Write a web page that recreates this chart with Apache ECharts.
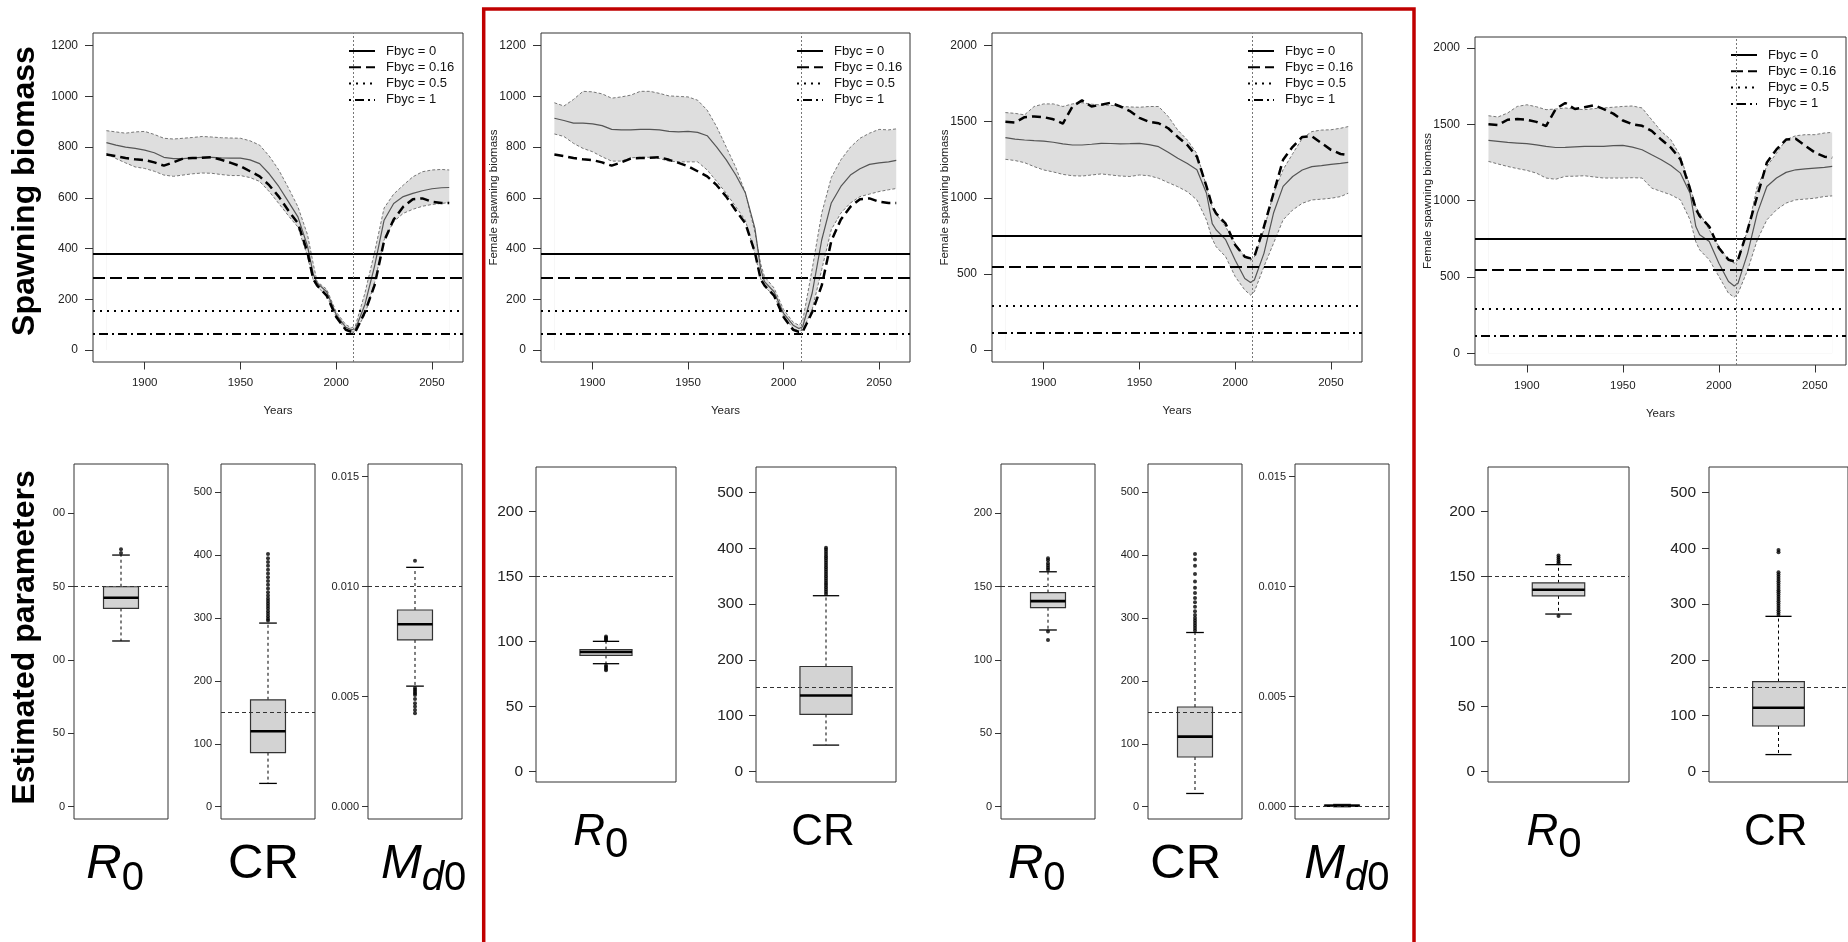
<!DOCTYPE html>
<html>
<head>
<meta charset="utf-8">
<title>Spawning biomass and estimated parameters</title>
<script src="https://cdn.jsdelivr.net/npm/echarts@6/dist/echarts.min.js"></script>
<style>
  html, body { margin: 0; padding: 0; background: #fff; }
  #chart { width: 1848px; height: 942px; }
</style>
</head>
<body>
<div id="chart"></div>
<script>
// years shared by every biomass series
const years = [1880, 1885, 1890, 1895, 1900, 1905, 1910, 1915, 1920, 1925,
  1930, 1935, 1940, 1945, 1950, 1955, 1960, 1965, 1970, 1975,
  1980, 1985, 1988, 1990, 1995, 2000, 2005, 2008, 2010, 2015,
  2020, 2025, 2030, 2035, 2040, 2045, 2050, 2055, 2059];

// panel 1 : estimated band + median
const upper1 = [865, 860, 855, 860, 862, 850, 835, 832, 835, 838, 842, 840, 837, 836, 835, 825, 808, 765, 710, 640,
  565, 455, 340, 270, 240, 150, 100, 88, 95, 225, 385, 560, 615, 650, 683, 703, 710, 712, 710];
const median1 = [818, 808, 800, 795, 788, 778, 760, 755, 755, 758, 760, 760, 758, 757, 757, 750, 735, 695, 645, 585,
  525, 410, 300, 265, 230, 140, 90, 80, 83, 180, 330, 512, 578, 605, 618, 628, 636, 640, 641];
const lower1 = [775, 755, 738, 722, 716, 705, 690, 685, 690, 695, 698, 697, 692, 688, 688, 680, 665, 625, 578, 530,
  485, 370, 275, 250, 215, 130, 80, 70, 73, 140, 265, 434, 506, 539, 555, 567, 574, 578, 582];

// panel 2
const upper2 = [975, 962, 988, 1020, 1018, 1010, 993, 998, 1005, 1020, 1020, 1012, 1002, 1000, 998, 985, 946, 880, 800, 720,
  620, 465, 340, 290, 245, 160, 110, 98, 115, 320, 540, 680, 750, 800, 835, 855, 870, 868, 872];
const median2 = [914, 905, 895, 895, 892, 885, 870, 868, 868, 870, 870, 868, 862, 860, 862, 858, 845, 800, 750, 690,
  620, 480, 320, 270, 230, 145, 98, 85, 92, 225, 435, 580, 645, 690, 715, 732, 738, 742, 748];
const lower2 = [852, 842, 815, 795, 782, 762, 745, 745, 758, 760, 760, 755, 745, 742, 742, 742, 710, 665, 618, 565,
  512, 380, 280, 250, 215, 135, 85, 75, 78, 160, 318, 475, 540, 580, 605, 615, 625, 632, 637];

// panel 3
const upper3 = [1560, 1555, 1545, 1600, 1617, 1617, 1600, 1617, 1625, 1615, 1610, 1608, 1600, 1597, 1595, 1600, 1600, 1535, 1445, 1380,
  1290, 1075, 940, 895, 810, 700, 612, 590, 612, 790, 1030, 1185, 1290, 1390, 1435, 1445, 1447, 1457, 1468];
const median3 = [1395, 1385, 1380, 1376, 1373, 1365, 1355, 1347, 1347, 1352, 1358, 1357, 1355, 1356, 1358, 1350, 1336, 1300, 1260, 1225,
  1185, 1030, 830, 790, 725, 590, 470, 443, 460, 635, 900, 1075, 1140, 1183, 1205, 1212, 1220, 1226, 1233];
const lower3 = [1253, 1245, 1231, 1205, 1183, 1170, 1154, 1145, 1143, 1150, 1157, 1150, 1143, 1140, 1150, 1145, 1128, 1100, 1073, 1040,
  986, 854, 730, 679, 613, 482, 394, 361, 383, 548, 701, 855, 920, 964, 986, 991, 997, 1008, 1030];

// panel 4
const upper4 = [1556, 1548, 1574, 1617, 1628, 1615, 1596, 1600, 1607, 1600, 1596, 1603, 1607, 1612, 1617, 1620, 1607, 1530, 1454, 1399,
  1290, 1093, 960, 918, 809, 699, 612, 590, 612, 809, 1093, 1224, 1311, 1399, 1425, 1432, 1432, 1443, 1447];
const median4 = [1395, 1388, 1381, 1377, 1373, 1365, 1355, 1348, 1349, 1352, 1355, 1355, 1355, 1360, 1362, 1350, 1333, 1300, 1268, 1230,
  1180, 1049, 830, 776, 732, 590, 470, 441, 459, 656, 918, 1093, 1148, 1185, 1202, 1208, 1213, 1218, 1224];
const lower4 = [1257, 1240, 1224, 1210, 1198, 1180, 1148, 1140, 1159, 1160, 1163, 1155, 1148, 1148, 1148, 1150, 1148, 1082, 1060, 1038,
  1005, 874, 730, 677, 612, 503, 393, 367, 393, 546, 743, 874, 940, 984, 1005, 1010, 1016, 1027, 1031];

// true trajectories (thick dashed)
const truthA = [771, 765, 757, 752, 749, 740, 727, 740, 755, 757, 758, 760, 750, 738, 725, 705, 685, 650, 605, 550,
  500, 385, 280, 255, 215, 130, 80, 72, 72, 150, 255, 430, 515, 565, 595, 598, 585, 580, 580];
const truthB = [1500, 1495, 1530, 1535, 1530, 1516, 1488, 1600, 1640, 1600, 1612, 1625, 1600, 1570, 1525, 1500, 1490, 1457, 1400, 1347,
  1270, 1075, 945, 898, 830, 690, 613, 602, 613, 810, 1030, 1250, 1335, 1400, 1405, 1360, 1315, 1288, 1281];

// equilibrium levels for Fbyc = 0, 0.16, 0.5, 1
const refA = [379, 287, 155, 66];
const refB = [751, 550, 291, 116];
const legendNames = ['Fbyc = 0', 'Fbyc = 0.16', 'Fbyc = 0.5', 'Fbyc = 1'];
const markYear = 2009;

// tick labels
const xTicks = [1900, 1950, 2000, 2050];
const yTicksA = [0, 200, 400, 600, 800, 1000, 1200];
const yTicksB = [0, 500, 1000, 1500, 2000];
const r0Ticks = [0, 50, 100, 150, 200];
const r0Clipped = ['0', '50', '00', '50', '00'];
const crTicks = [0, 100, 200, 300, 400, 500];
const mdTicks = [0, 0.005, 0.010, 0.015];

// boxplot stats: [lower whisker, Q1, median, Q3, upper whisker]
const r0Stats1 = [113, 135.2, 142.5, 150, 171.6];
const crStats1 = [37, 86, 120, 170, 292];
const mdStats1 = [0.00548, 0.00758, 0.00829, 0.00894, 0.01088];
const r0Stats2 = [82.8, 89.2, 91.8, 93.6, 100];
const crStats2 = [47, 102, 136, 188, 315];
const r0Stats3 = [120.5, 135.7, 140.2, 146, 160.2];
const crStats3 = [21, 79, 111.4, 158.5, 277];
const mdStats3 = [0, 0.00002, 0.00004, 0.00007, 0.0001];
const r0Stats4 = [121, 135, 139.7, 145, 159];
const crStats4 = [30, 81.3, 114, 161, 278];

// outliers
const r0Out1 = [173, 175.5];
const crOut1 = [296, 299, 303, 307, 311, 315, 319, 323, 327, 331, 336, 341, 347, 353, 359, 365, 371, 377, 383, 389, 395, 402];
const mdOut1 = [0.01118, 0.0054, 0.00532, 0.00524, 0.00516, 0.00508, 0.0049, 0.0047, 0.00455, 0.0044, 0.00425];
const r0Out2 = [100.8, 101.8, 102.8, 103.8, 81.5, 80.3, 79, 77.7];
const crOut2 = [318, 322, 326, 330, 334, 338, 342, 346, 350, 354, 358, 362, 366, 370, 374, 378, 382, 386, 390, 394, 398, 401];
const r0Out3 = [161.5, 163, 164.5, 166, 168, 169.5, 119.5, 113.6];
const crOut3 = [280, 284, 288, 292, 296, 300, 305, 311, 318, 325, 332, 340, 348, 358, 370, 383, 393, 402];
const mdOut3 = [];
const r0Out4 = [160, 161.5, 163, 164.5, 166, 119.5];
const crOut4 = [281, 285, 289, 293, 297, 301, 305, 309, 313, 317, 321, 325, 329, 333, 337, 341, 345, 349, 353, 357, 393, 397];

const FONT = '"Liberation Sans", Arial, sans-serif';
const refDash = ['solid', [12, 5], [2, 5], [2, 4, 9, 4]];

const chart = echarts.init(document.getElementById('chart'));

const topPanels = [
  { box: [93, 33, 370, 329], y: [-47, 1250], ticks: yTicksA, up: upper1, mid: median1, lo: lower1, truth: truthA, ref: refA, name: '' },
  { box: [541, 33, 369, 329], y: [-47, 1250], ticks: yTicksA, up: upper2, mid: median2, lo: lower2, truth: truthA, ref: refA, name: 'Female spawning biomass' },
  { box: [992, 33, 370, 329], y: [-79, 2083], ticks: yTicksB, up: upper3, mid: median3, lo: lower3, truth: truthB, ref: refB, name: 'Female spawning biomass' },
  { box: [1475, 37, 371, 328], y: [-77, 2072], ticks: yTicksB, up: upper4, mid: median4, lo: lower4, truth: truthB, ref: refB, name: 'Female spawning biomass' }
];

const boxPanels = [
  { box: [74, 464, 94, 355], y: [-8.4, 233.7], ticks: r0Ticks, labels: r0Clipped, stats: r0Stats1, out: r0Out1, ref: 150 },
  { box: [221, 464, 94, 355], y: [-19.6, 545], ticks: crTicks, stats: crStats1, out: crOut1, ref: 150 },
  { box: [368, 464, 94, 355], y: [-0.00056, 0.015577], ticks: mdTicks, dec: 3, stats: mdStats1, out: mdOut1, ref: 0.010 },
  { box: [536, 467, 140, 315], y: [-8.2, 234.1], ticks: r0Ticks, stats: r0Stats2, out: r0Out2, ref: 150, big: true },
  { box: [756, 467, 140, 315], y: [-19.2, 545.9], ticks: crTicks, stats: crStats2, out: crOut2, ref: 150, big: true },
  { box: [1001, 464, 94, 355], y: [-8.4, 233.7], ticks: r0Ticks, stats: r0Stats3, out: r0Out3, ref: 150 },
  { box: [1148, 464, 94, 355], y: [-19.6, 545], ticks: crTicks, stats: crStats3, out: crOut3, ref: 150 },
  { box: [1295, 464, 94, 355], y: [-0.00056, 0.015577], ticks: mdTicks, dec: 3, stats: mdStats3, out: mdOut3, ref: 0 },
  { box: [1488, 467, 141, 315], y: [-8.2, 234.1], ticks: r0Ticks, stats: r0Stats4, out: r0Out4, ref: 150, big: true },
  { box: [1709, 467, 140, 315], y: [-19.2, 545.9], ticks: crTicks, stats: crStats4, out: crOut4, ref: 150, big: true }
];

const grid = [], xAxis = [], yAxis = [], series = [], graphic = [];

function pairs(vals) {
  return years.map((yr, i) => [yr, vals[i]]);
}

topPanels.forEach((p, i) => {
  const [l, t, w, h] = p.box;
  grid.push({ left: l, top: t, width: w, height: h, show: true, borderColor: '#333', borderWidth: 1, backgroundColor: 'transparent' });
  xAxis.push({
    type: 'value', gridIndex: i, min: 1873, max: 2066.2,
    name: 'Years', nameLocation: 'middle', nameGap: 43, nameMoveOverlap: false,
    nameTextStyle: { fontSize: 11.5, color: '#222', fontFamily: FONT },
    axisLine: { show: false, onZero: false }, splitLine: { show: false },
    axisTick: { show: true, length: 7.5, lineStyle: { color: '#333' }, customValues: xTicks },
    axisLabel: { fontSize: 11.5, color: '#222', margin: 15, customValues: xTicks, formatter: v => String(v) }
  });
  yAxis.push({
    type: 'value', gridIndex: i, min: p.y[0], max: p.y[1],
    name: p.name, nameLocation: 'middle', nameGap: 41, nameMoveOverlap: false,
    nameTextStyle: { fontSize: 11.5, color: '#222', fontFamily: FONT },
    axisLine: { show: false, onZero: false }, splitLine: { show: false },
    axisTick: { show: true, length: 8, lineStyle: { color: '#333' }, customValues: p.ticks },
    axisLabel: { fontSize: 12, color: '#222', margin: 15, customValues: p.ticks, formatter: v => String(v) }
  });
  const base = { type: 'line', xAxisIndex: i, yAxisIndex: i, showSymbol: false, symbol: 'none', silent: true };
  series.push({ ...base, data: pairs(p.up), lineStyle: { color: '#777', width: 1, type: [3, 2] }, areaStyle: { color: '#dedede', opacity: 1 } });
  series.push({ ...base, data: pairs(p.lo), lineStyle: { color: '#777', width: 1, type: [3, 2] }, areaStyle: { color: '#fff', opacity: 1 } });
  series.push({ ...base, data: pairs(p.mid), lineStyle: { color: '#555', width: 1.2 } });
  series.push({
    ...base, data: pairs(p.truth), lineStyle: { color: '#000', width: 2.5, type: [9, 5] },
    markLine: {
      silent: true, symbol: ['none', 'none'], label: { show: false }, animation: false,
      data: p.ref.map((v, k) => ({ yAxis: v, lineStyle: { color: '#000', width: 2, type: refDash[k] } }))
        .concat([{ xAxis: markYear, lineStyle: { color: '#777', width: 1, type: [2, 2] } }])
    }
  });
  // legend, top right inside the frame
  legendNames.forEach((nm, k) => {
    const ly = t + 18 + k * 16.3;
    graphic.push({
      type: 'line', shape: { x1: l + 256, y1: ly, x2: l + 282, y2: ly },
      style: { stroke: '#000', lineWidth: 2, lineDash: refDash[k] === 'solid' ? null : refDash[k] }
    });
    graphic.push({
      type: 'text', x: l + 293, y: ly,
      style: { text: nm, font: '13px ' + FONT, fill: '#111', verticalAlign: 'middle' }
    });
  });
});

function renderBox(params, api) {
  const cx = api.coord([api.value(0), 0])[0];
  const band = api.size([1, 0])[0];
  const half = band * 0.186, cap = band * 0.094;
  const yLo = api.coord([0, api.value(1)])[1];
  const yQ1 = api.coord([0, api.value(2)])[1];
  const yMed = api.coord([0, api.value(3)])[1];
  const yQ3 = api.coord([0, api.value(4)])[1];
  const yHi = api.coord([0, api.value(5)])[1];
  const dash = { stroke: '#000', lineWidth: 1, lineDash: [3, 3] };
  const solid = { stroke: '#000', lineWidth: 1.3 };
  return {
    type: 'group',
    children: [
      { type: 'line', shape: { x1: cx, y1: yQ3, x2: cx, y2: yHi }, style: dash },
      { type: 'line', shape: { x1: cx, y1: yQ1, x2: cx, y2: yLo }, style: dash },
      { type: 'line', shape: { x1: cx - cap, y1: yHi, x2: cx + cap, y2: yHi }, style: solid },
      { type: 'line', shape: { x1: cx - cap, y1: yLo, x2: cx + cap, y2: yLo }, style: solid },
      { type: 'rect', shape: { x: cx - half, y: yQ3, width: half * 2, height: Math.max(yQ1 - yQ3, 1) },
        style: { fill: '#d3d3d3', stroke: '#333', lineWidth: 1.2 } },
      { type: 'line', shape: { x1: cx - half, y1: yMed, x2: cx + half, y2: yMed }, style: { stroke: '#000', lineWidth: 2.6 } }
    ]
  };
}

boxPanels.forEach((p, j) => {
  const i = topPanels.length + j;
  const [l, t, w, h] = p.box;
  grid.push({ left: l, top: t, width: w, height: h, show: true, borderColor: '#333', borderWidth: 1, backgroundColor: 'transparent' });
  xAxis.push({ type: 'category', gridIndex: i, data: ['p'], show: false });
  yAxis.push({
    type: 'value', gridIndex: i, min: p.y[0], max: p.y[1],
    axisLine: { show: false, onZero: false }, splitLine: { show: false },
    axisTick: { show: true, length: p.big ? 7 : 6, lineStyle: { color: '#333' }, customValues: p.ticks },
    axisLabel: {
      fontSize: p.big ? 15.5 : 11, color: '#222', margin: p.big ? 13 : 9, customValues: p.ticks,
      formatter: v => {
        if (p.labels) return p.labels[p.ticks.indexOf(v)] ?? String(v);
        return p.dec ? v.toFixed(p.dec) : String(v);
      }
    }
  });
  series.push({
    type: 'custom', xAxisIndex: i, yAxisIndex: i, silent: true,
    renderItem: renderBox,
    encode: { x: 0, y: [1, 2, 3, 4, 5] },
    data: [[0].concat(p.stats)],
    markLine: {
      silent: true, symbol: ['none', 'none'], label: { show: false }, animation: false,
      data: [{ yAxis: p.ref, lineStyle: { color: '#333', width: 1, type: [4, 3] } }]
    }
  });
  series.push({
    type: 'scatter', xAxisIndex: i, yAxisIndex: i, silent: true,
    symbolSize: 4, itemStyle: { color: '#000' },
    data: p.out.map(v => [0, v])
  });
});

// parameter names under the boxplots:
// [x (junction of symbol and subscript, or centre), cap centre y, size, sub centre y, sub size, kind]
const paramLabels = [
  [121.7, 864.5, 49, 879, 40, 'R'], [263.5, 864.5, 49, 0, 0, 'CR'], [421.7, 864.5, 49, 879, 40, 'M'],
  [605, 832.5, 44, 845.3, 42, 'R'], [823, 832.5, 44, 0, 0, 'CR'],
  [1043.3, 864.5, 49, 879, 40, 'R'], [1185.7, 864.5, 49, 0, 0, 'CR'], [1345, 864.5, 49, 879, 40, 'M'],
  [1558.3, 832.5, 44, 845.3, 42, 'R'], [1775.8, 832.5, 44, 0, 0, 'CR']
];
paramLabels.forEach(([x, y, F, sy, S, kind]) => {
  if (kind === 'CR') {
    graphic.push({ type: 'text', x: x, y: y,
      style: { text: 'CR', font: F + 'px ' + FONT, fill: '#000', align: 'center', verticalAlign: 'middle' } });
    return;
  }
  graphic.push({ type: 'text', x: x, y: y,
    style: { text: kind, font: 'italic ' + F + 'px ' + FONT, fill: '#000', align: 'right', verticalAlign: 'middle' } });
  graphic.push({ type: 'text', x: x, y: sy,
    style: {
      text: kind === 'M' ? '{i|d}{n|0}' : '{n|0}', align: 'left', verticalAlign: 'middle',
      rich: {
        i: { fontFamily: FONT, fontStyle: 'italic', fontSize: S, fill: '#000' },
        n: { fontFamily: FONT, fontSize: S, fill: '#000' }
      }
    } });
});

// row titles
graphic.push({
  type: 'text', x: 25, y: 191, rotation: Math.PI / 2,
  style: { text: 'Spawning biomass', font: 'bold 32px ' + FONT, fill: '#000', align: 'center', verticalAlign: 'middle' }
});
graphic.push({
  type: 'text', x: 25, y: 637.5, rotation: Math.PI / 2,
  style: { text: 'Estimated parameters', font: 'bold 32px ' + FONT, fill: '#000', align: 'center', verticalAlign: 'middle' }
});

// red highlight frame
graphic.push({
  type: 'rect', shape: { x: 483.7, y: 9, width: 930.3, height: 960 },
  style: { fill: 'transparent', stroke: '#c00000', lineWidth: 3.5 }, z: 10
});

chart.setOption({
  animation: false,
  backgroundColor: '#fff',
  textStyle: { fontFamily: FONT },
  grid, xAxis, yAxis, series, graphic
});
</script>
</body>
</html>
